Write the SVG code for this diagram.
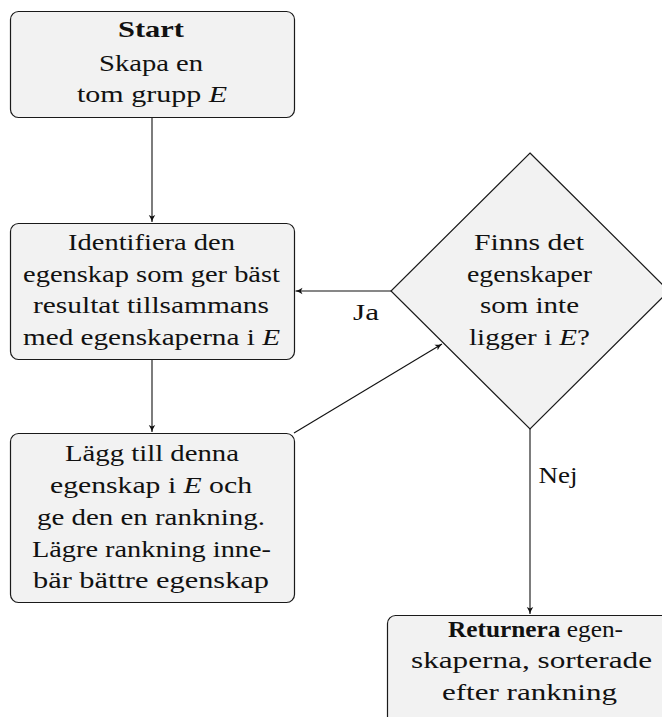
<svg xmlns="http://www.w3.org/2000/svg" width="662" height="717" viewBox="0 0 662 717">
<style>
.node{fill:#f2f2f2;stroke:#1a1a1a;stroke-width:1.2}
.t{font-family:"Liberation Serif","Times New Roman",serif;font-size:24px;fill:#111;text-anchor:middle}
.b{font-weight:bold}
.i{font-style:italic}
.c{fill:none;stroke:#111;stroke-width:1.1}
</style>
<defs>
<marker id="ah" markerWidth="8" markerHeight="8" refX="7" refY="4" orient="auto" markerUnits="userSpaceOnUse">
<path d="M0,0.8 Q3.5,3 7,4 Q3.5,5 0,7.2 L1.6,4 Z" fill="#111"/>
</marker>
</defs>
<rect width="662" height="717" fill="#fff"/>
<g id="connectors">
<line class="c" x1="152" y1="118" x2="152" y2="222" marker-end="url(#ah)"/>
<line class="c" x1="152" y1="360" x2="152" y2="432" marker-end="url(#ah)"/>
<line class="c" x1="391" y1="291" x2="295.5" y2="291" marker-end="url(#ah)"/>
<line class="c" x1="294" y1="433" x2="442" y2="344" marker-end="url(#ah)"/>
<line class="c" x1="530" y1="429" x2="530" y2="614" marker-end="url(#ah)"/>
<text class="t" x="366" y="320" textLength="26" lengthAdjust="spacingAndGlyphs">Ja</text>
<text class="t" x="558" y="483" textLength="39" lengthAdjust="spacingAndGlyphs">Nej</text>
</g>
<g id="start">
<rect class="node" x="10.5" y="11.5" width="284" height="106" rx="8"/>
<text class="t b" x="151" y="37" textLength="66" lengthAdjust="spacingAndGlyphs">Start</text>
<text class="t" x="151" y="71" textLength="104" lengthAdjust="spacingAndGlyphs">Skapa en</text>
<text class="t" x="152" y="102" textLength="150" lengthAdjust="spacingAndGlyphs">tom grupp <tspan class="i">E</tspan></text>
</g>
<g id="identify">
<rect class="node" x="10.5" y="223.5" width="284" height="136" rx="8"/>
<text class="t" x="151.5" y="250" textLength="167" lengthAdjust="spacingAndGlyphs">Identifiera den</text>
<text class="t" x="151.5" y="282" textLength="257" lengthAdjust="spacingAndGlyphs">egenskap som ger bäst</text>
<text class="t" x="151" y="313" textLength="236" lengthAdjust="spacingAndGlyphs">resultat tillsammans</text>
<text class="t" x="151.5" y="345" textLength="257" lengthAdjust="spacingAndGlyphs">med egenskaperna i <tspan class="i">E</tspan></text>
</g>
<g id="add">
<rect class="node" x="10.5" y="433.5" width="284" height="169" rx="8"/>
<text class="t" x="152" y="461" textLength="174" lengthAdjust="spacingAndGlyphs">Lägg till denna</text>
<text class="t" x="151" y="493" textLength="202" lengthAdjust="spacingAndGlyphs">egenskap i <tspan class="i">E</tspan> och</text>
<text class="t" x="151" y="525" textLength="228" lengthAdjust="spacingAndGlyphs">ge den en rankning.</text>
<text class="t" x="151.5" y="557" textLength="239" lengthAdjust="spacingAndGlyphs">Lägre rankning inne-</text>
<text class="t" x="151" y="588" textLength="236" lengthAdjust="spacingAndGlyphs">bär bättre egenskap</text>
</g>
<g id="decision">
<polygon class="node" points="530,153 669,291 530,429 391,291"/>
<text class="t" x="529" y="250" textLength="110" lengthAdjust="spacingAndGlyphs">Finns det</text>
<text class="t" x="529.5" y="282" textLength="125" lengthAdjust="spacingAndGlyphs">egenskaper</text>
<text class="t" x="529.5" y="313" textLength="99" lengthAdjust="spacingAndGlyphs">som inte</text>
<text class="t" x="529.5" y="345" textLength="121" lengthAdjust="spacingAndGlyphs">ligger i <tspan class="i">E</tspan>?</text>
</g>
<g id="return">
<rect class="node" x="387.5" y="615.5" width="290" height="125" rx="8"/>
<text class="t" x="535.5" y="637" textLength="175" lengthAdjust="spacingAndGlyphs"><tspan class="b">Returnera</tspan> egen-</text>
<text class="t" x="531.5" y="668" textLength="241" lengthAdjust="spacingAndGlyphs">skaperna, sorterade</text>
<text class="t" x="529.5" y="700" textLength="175" lengthAdjust="spacingAndGlyphs">efter rankning</text>
</g>
</svg>
